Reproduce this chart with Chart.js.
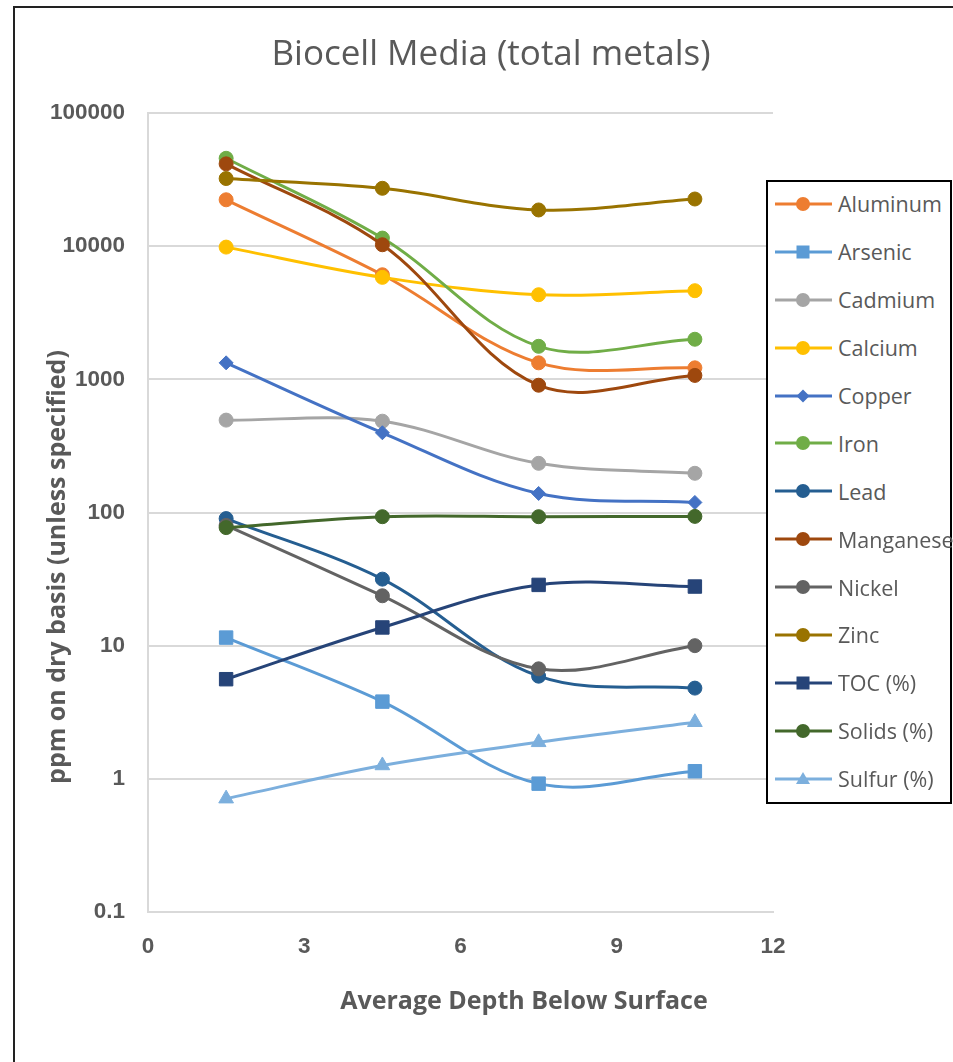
<!DOCTYPE html>
<html>
<head>
<meta charset="utf-8">
<script src="https://cdn.jsdelivr.net/npm/chart.js@4.4.1/dist/chart.umd.min.js"></script>
<style>
  html, body { margin: 0; padding: 0; background: #fff; overflow: hidden; }
  #wrap { position: relative; width: 953px; height: 1062px; overflow: hidden; }
  #frame { position: absolute; left: 13px; top: 6px; width: 1000px; height: 1100px; border: 2px solid #222; }
  #myChart { position: absolute; left: 0; top: 0; }
  #legend { position: absolute; left: 766px; top: 180px; width: 186px; height: 624px; box-sizing: border-box;
            border: 2px solid #000; background: #fff; font-family: 'Open Sans', sans-serif; font-size: 21.5px; color: #595959; }
  #items { position: relative; top: -2px; }
  .item { height: 47.9px; display: flex; align-items: center; padding-left: 7px; white-space: nowrap; }
  .item svg { margin-right: 6px; flex: none; }
</style>
</head>
<body>
<div id="wrap">
  <div id="frame"></div>
  <canvas id="myChart" width="953" height="1062"></canvas>
  <div id="legend"><div id="items"></div></div>
</div>
<script>
const depth = [1.5, 4.5, 7.5, 10.5];

const aluminum  = [22300, 6100, 1330, 1220];
const arsenic   = [11.5, 3.8, 0.92, 1.14];
const cadmium   = [494, 485, 234, 197];
const calcium   = [9840, 5830, 4320, 4630];
const copper    = [1330, 397, 139, 119];
const iron      = [45700, 11500, 1770, 2000];
const lead      = [90, 31.6, 5.9, 4.8];
const manganese = [41500, 10250, 903, 1070];
const nickel    = [80, 23.7, 6.7, 10];
const zinc      = [32200, 27200, 18700, 22600];
const toc       = [5.6, 13.7, 28.6, 27.8];
const solids    = [77, 93, 93, 93.5];
const sulfur    = [0.71, 1.26, 1.88, 2.66];

const seriesNames = ['Aluminum', 'Arsenic', 'Cadmium', 'Calcium', 'Copper', 'Iron', 'Lead',
  'Manganese', 'Nickel', 'Zinc', 'TOC (%)', 'Solids (%)', 'Sulfur (%)'];
const seriesValues = [aluminum, arsenic, cadmium, calcium, copper, iron, lead,
  manganese, nickel, zinc, toc, solids, sulfur];
const seriesColors = ['#ED7D31', '#5B9BD5', '#A5A5A5', '#FFC000', '#4472C4', '#70AD47', '#255E91',
  '#9E480E', '#636363', '#997300', '#264478', '#43682B', '#7CAFDD'];
const seriesMarkers = ['circle', 'rect', 'circle', 'circle', 'rectRot', 'circle', 'circle',
  'circle', 'circle', 'circle', 'rect', 'circle', 'triangle'];

const xTicks = [0, 3, 6, 9, 12];
const yTicks = [0.1, 1, 10, 100, 1000, 10000, 100000];

const chartTitle = 'Biocell Media (total metals)';
const xTitle = 'Average Depth Below Surface';
const yTitle = 'ppm on dry basis (unless specified)';

const markerSize = { circle: 7, rect: 9.5, rectRot: 7, triangle: 8.5 };

const datasets = seriesNames.map((name, i) => ({
  label: name,
  data: seriesValues[i].map((v, j) => ({ x: depth[j], y: v })),
  borderColor: seriesColors[i],
  backgroundColor: seriesColors[i],
  borderWidth: 3,
  pointStyle: seriesMarkers[i],
  pointRadius: markerSize[seriesMarkers[i]],
  pointBorderWidth: 1,
  tension: 0.35,
  order: seriesNames.length - i
}));

// titles drawn where Excel put them
const titlesPlugin = {
  id: 'titles',
  afterDraw(chart) {
    const ctx = chart.ctx;
    ctx.save();
    ctx.fillStyle = '#595959';
    ctx.textAlign = 'center';
    ctx.textBaseline = 'middle';
    ctx.font = "35px 'Open Sans', sans-serif";
    ctx.fillText(chartTitle, 491, 55);
    ctx.font = "bold 25px 'Open Sans', sans-serif";
    ctx.fillText(xTitle, 524, 1002);
    ctx.translate(58, 567);
    ctx.rotate(-Math.PI / 2);
    ctx.fillText(yTitle, 0, 0);
    ctx.restore();
  }
};

const ctx = document.getElementById('myChart');
const myChart = new Chart(ctx, {
  type: 'line',
  data: { datasets: datasets },
  options: {
    responsive: false,
    animation: false,
    layout: { padding: { top: 113, right: 180, bottom: 0, left: 0 } },
    plugins: {
      legend: { display: false },
      title: { display: false },
      tooltip: { enabled: false }
    },
    scales: {
      x: {
        type: 'linear',
        min: 0,
        max: 12,
        afterBuildTicks: (scale) => { scale.ticks = xTicks.map(v => ({ value: v })); },
        afterFit: (scale) => { scale.height = 150; },
        grid: { display: false, drawTicks: false },
        border: { color: '#D9D9D9', width: 2 },
        ticks: { padding: 21, color: '#595959', font: { size: 22.5, weight: 'bold' } }
      },
      y: {
        type: 'logarithmic',
        min: 0.1,
        max: 100000,
        afterBuildTicks: (scale) => { scale.ticks = yTicks.map(v => ({ value: v })); },
        afterFit: (scale) => { scale.width = 148; },
        grid: { color: '#D9D9D9', lineWidth: 2, drawTicks: false },
        border: { color: '#D9D9D9', width: 2 },
        ticks: {
          padding: 23,
          color: '#595959',
          font: { size: 22.5, weight: 'bold' },
          callback: (v) => String(v)
        }
      }
    }
  },
  plugins: [titlesPlugin]
});

// legend: line with marker, like Excel
const legendDiv = document.getElementById('items');
seriesNames.forEach((name, i) => {
  const c = seriesColors[i];
  let mark = '';
  if (seriesMarkers[i] === 'circle') mark = `<circle cx="28" cy="10" r="7" fill="${c}"/>`;
  if (seriesMarkers[i] === 'rect') mark = `<rect x="21.5" y="3.5" width="13" height="13" fill="${c}"/>`;
  if (seriesMarkers[i] === 'rectRot') mark = `<polygon points="28,3.5 34.5,10 28,16.5 21.5,10" fill="${c}"/>`;
  if (seriesMarkers[i] === 'triangle') mark = `<polygon points="28,3 35,15 21,15" fill="${c}"/>`;
  const item = document.createElement('div');
  item.className = 'item';
  item.innerHTML = `<svg width="57" height="20"><line x1="0" y1="10" x2="57" y2="10" stroke="${c}" stroke-width="3"/>${mark}</svg><span>${name}</span>`;
  legendDiv.appendChild(item);
});
</script>
</body>
</html>
